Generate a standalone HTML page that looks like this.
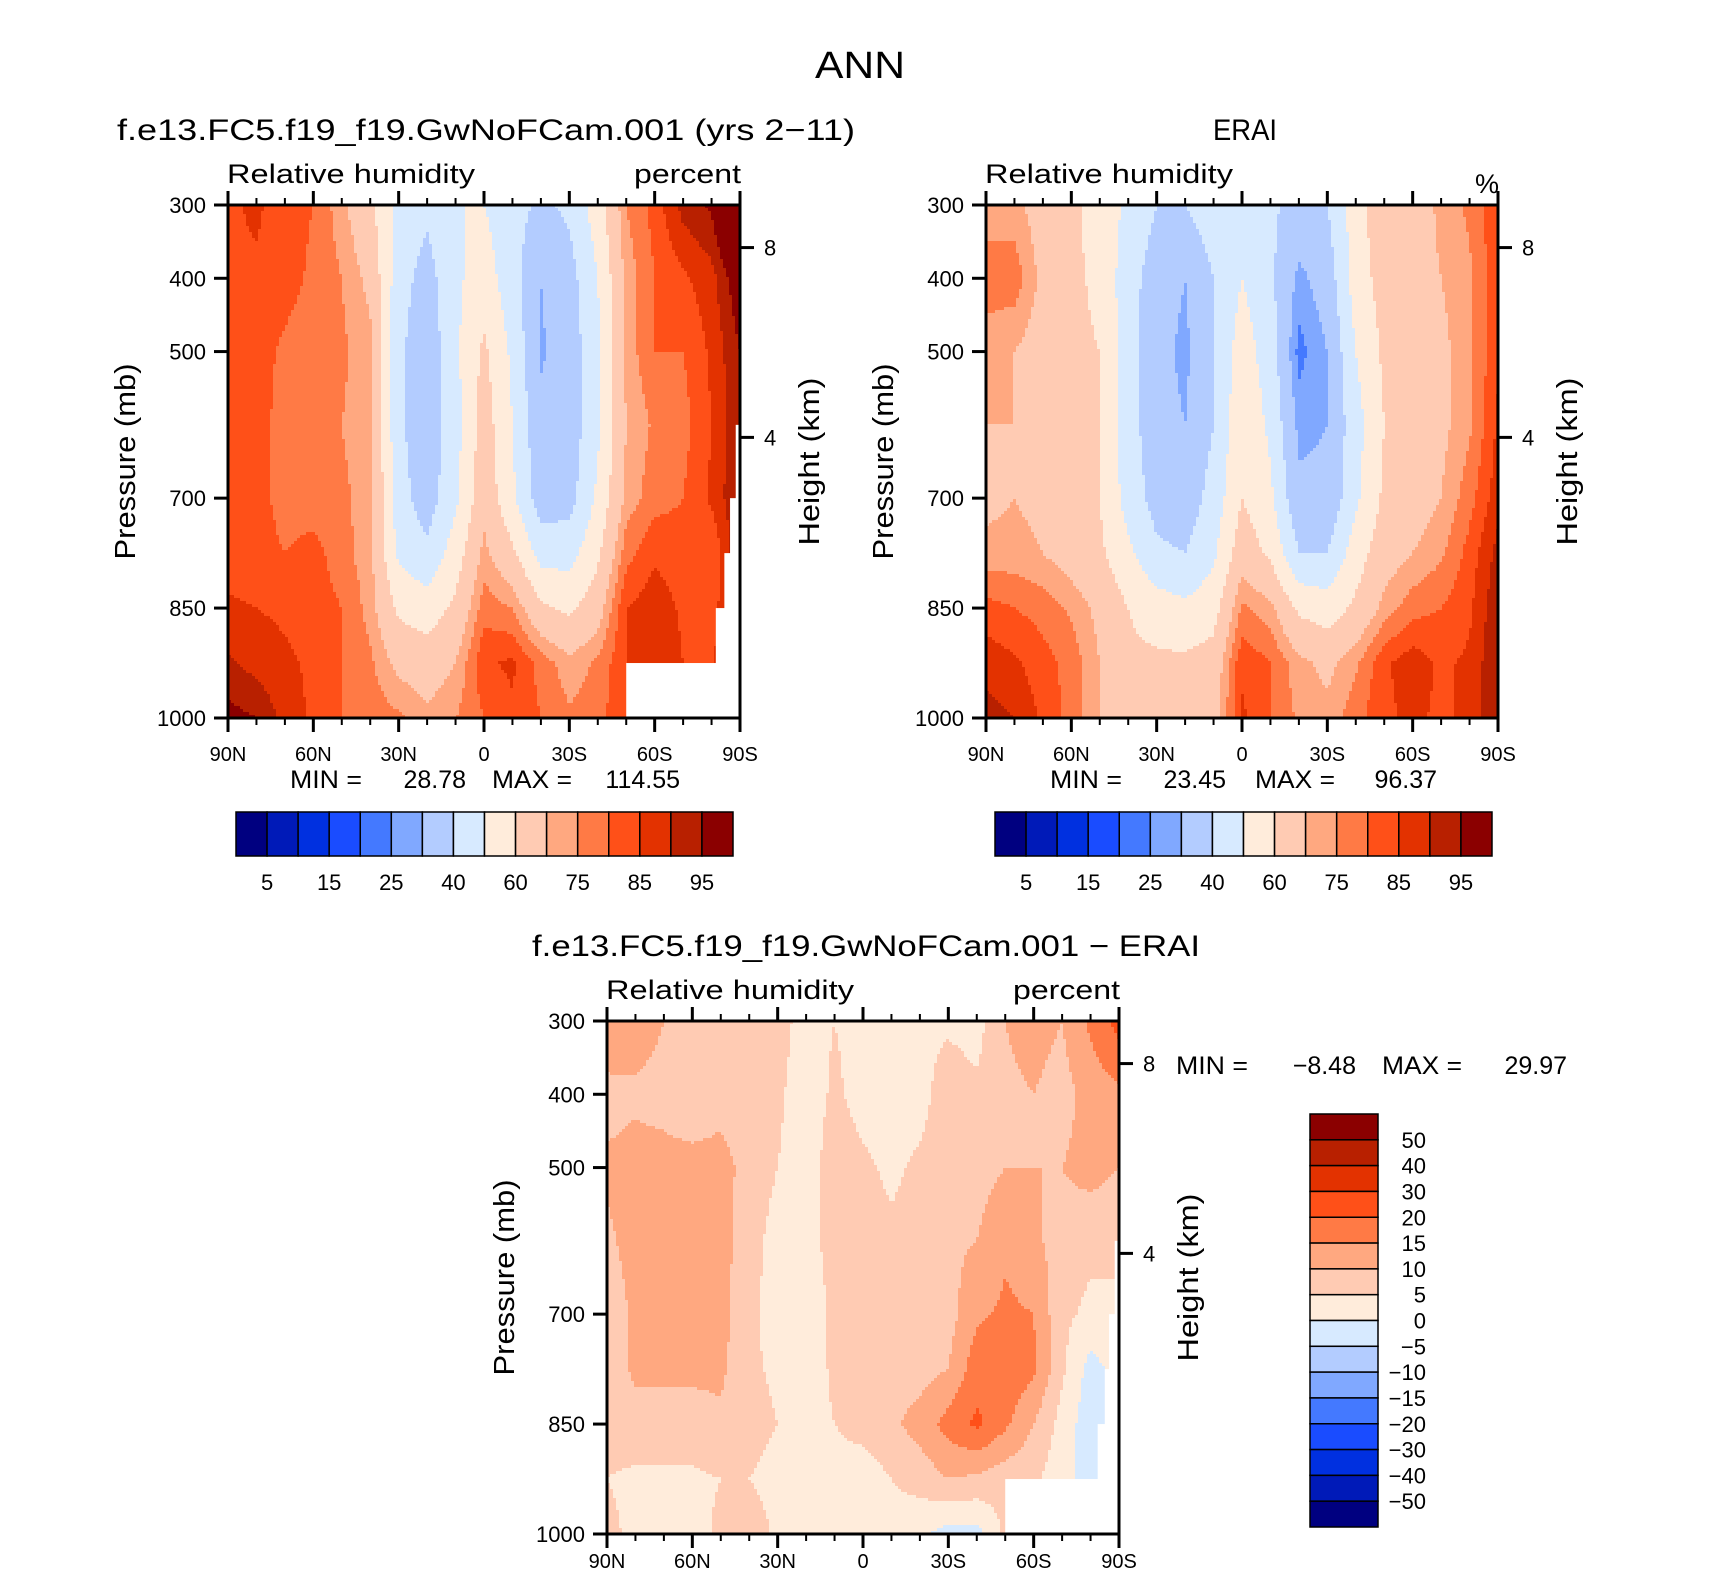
<!DOCTYPE html>
<html><head><meta charset="utf-8"><style>
body{margin:0;background:#fff}
svg{display:block}
text{font-family:"Liberation Sans",sans-serif;fill:#000}
</style></head><body>
<svg id="fig" width="1710" height="1575" viewBox="0 0 1710 1575" xmlns="http://www.w3.org/2000/svg">
<text x="860" y="78" font-size="38" text-anchor="middle" textLength="90" lengthAdjust="spacingAndGlyphs">ANN</text>
<text x="117" y="140" font-size="30" textLength="738" lengthAdjust="spacingAndGlyphs">f.e13.FC5.f19_f19.GwNoFCam.001 (yrs 2−11)</text>
<text x="1245" y="140" font-size="30" text-anchor="middle" textLength="64" lengthAdjust="spacingAndGlyphs">ERAI</text>
<text x="532" y="956" font-size="30" textLength="668" lengthAdjust="spacingAndGlyphs">f.e13.FC5.f19_f19.GwNoFCam.001 − ERAI</text>
<g id="panels"></g>
</svg>
<script>
const lats=[90,80,70,60,50,40,30,20,10,0,-10,-20,-30,-40,-50,-60,-70,-80,-90];
const plevs=[300,400,500,600,700,775,850,925,1000];
const levelsRH=[5,10,15,20,25,30,40,50,60,70,75,80,85,90,95];
const levelsDiff=[-50,-40,-30,-20,-15,-10,-5,0,5,10,15,20,30,40,50];
const labelsRH=["5","15","25","40","60","75","85","95"];
const labelsDiff=["50","40","30","20","15","10","5","0","−5","−10","−15","−20","−30","−40","−50"];
const colors=['#000080','#001ab8','#0030e0','#1a4cff','#4479ff','#80a8ff','#b3ccff','#d7eaff','#ffecdb','#ffcbb3','#ffa880','#ff7a45','#ff5018','#e33200','#b82000','#8b0000'];
const rhModel=[
[84,84,82,82,82,82,86,91,97],
[86,84,82,82,82,82,85,88,95],
[82,82,79,78,78,80,84,86,88],
[80,79,77,77,77,82,83,84,84],
[72,75,76,75,76,77,80,80,80],
[62,68,72,72,73,72,73,76,78],
[48,44,42,42,44,48,58,68,76],
[42,36,33,33,35,42,55,65,72],
[50,48,48,46,48,55,62,70,75],
[50,55,62,65,67,72,78,84,80],
[44,44,48,50,52,62,75,86,84],
[38,30,29,32,35,46,62,78,80],
[42,36,34,34,36,46,58,72,76],
[55,50,48,48,52,58,66,76,78],
[75,72,72,70,72,78,85,85,85],
[82,80,80,76,78,84,88,90,88],
[92,84,80,78,80,82,84,85,85],
[96,88,86,85,86,80,82,84,84],
[114,100,95,95,95,95,95,95,95]];
const rhObs=[
[72,78,72,70,68,72,82,88,92],
[72,78,70,70,70,72,80,86,90],
[66,68,66,66,68,70,78,82,84],
[62,62,62,62,64,66,74,78,78],
[56,58,60,60,60,62,68,70,70],
[48,44,44,44,46,52,60,62,62],
[40,35,33,34,36,42,55,62,62],
[40,30,28,30,34,40,52,62,62],
[46,40,40,40,44,48,56,64,66],
[50,50,55,58,60,66,76,84,86],
[42,42,45,48,52,58,72,80,80],
[36,28,23,28,32,40,58,72,74],
[40,34,30,30,32,40,55,68,72],
[55,55,50,46,48,55,62,74,78],
[68,64,62,60,62,66,72,84,84],
[64,66,65,64,66,70,78,88,86],
[72,70,68,68,70,74,80,84,84],
[76,74,74,74,78,82,84,86,86],
[84,84,84,86,88,92,94,95,95]];
const rhDiff=[
[15,8,11,9,7,7,7,5,6],
[13,9,12,12,11,11,8,4,4],
[10,8,12,12,12,11,8,4,4],
[8,6,12,12,11,11,8,4,3],
[6,8,12,12,12,11,9,5,6],
[7,6,8,7,6,6,7,5,8],
[7,6,5,3,3,4,5,3,4],
[3,2,2,3,2,2,3,3,4],
[5,6,8,7,6,6,5,3,3],
[3,3,6,7,6,6,7,2,2],
[2,2,4,6,7,8,9,5,3],
[4,3,6,7,6,8,12,7,1],
[4,8,9,9,8,10,17,10,-2],
[3,6,8,10,14,18,21,9,-2],
[10,9,10,14,16,19,16,7,6],
[12,10,10,11,15,16,10,6,6],
[10,8,10,8,6,6,3,2,2],
[16,12,12,6,4,-2,-3,-2,-2],
[22,14,10,6,4,2,-2,-2,-2]];
const mask1=[[-50,-90,925],[-81.5,-90,850],[-84.5,-90,775],[-86.5,-90,700],[-88.5,-90,600]];
const mask3=[[-50,-90,925],[-82.5,-90,850],[-85,-90,775],[-86.5,-90,700],[-88.5,-90,600]];
const stats1=["MIN =","28.78","MAX =","114.55"];
const stats2=["MIN =","23.45","MAX =","96.37"];
const stats3=["MIN =","−8.48","MAX =","29.97"];

const NS='http://www.w3.org/2000/svg';
const root=document.getElementById('panels');
function mk(tag,attrs,parent){const e=document.createElementNS(NS,tag);for(const k in attrs)e.setAttribute(k,attrs[k]);(parent||root).appendChild(e);return e;}
function txt(s,attrs,parent){const e=mk('text',attrs,parent);e.textContent=s;return e;}

function interp(grid,lat,p){
  let i=Math.floor((90-lat)/10); if(i>17)i=17; if(i<0)i=0;
  const fx=(lats[i]-lat)/10;
  let j=0; while(j<plevs.length-2&&p>plevs[j+1])j++;
  const fy=(p-plevs[j])/(plevs[j+1]-plevs[j]);
  const a=grid[i][j],b=grid[i+1][j],c=grid[i][j+1],d=grid[i+1][j+1];
  return a*(1-fx)*(1-fy)+b*fx*(1-fy)+c*(1-fx)*fy+d*fx*fy;
}
function colIdx(v,levels){let k=0;while(k<levels.length&&v>=levels[k])k++;return k;}

function panel(id,x0,y0,w,h,grid,levels,mask,opt){
  const g=mk('g',{});
  
  
  const xs=lat=>x0+(90-lat)/180*w;
  const ys=p=>y0+(p-300)/700*h;
  const field=mk('g',{'shape-rendering':'crispEdges'},g);
  
  
  const st=3, nx=Math.ceil(w/st), ny=Math.ceil(h/st);
  for(let r=0;r<ny;r++){
    const py=y0+r*st, ph=Math.min(st,y0+h-py);
    const p=300+((py+ph/2)-y0)/h*700;
    let start=0,cur=-1;
    for(let c=0;c<=nx;c++){
      let k=-2;
      if(c<nx){const px=x0+c*st+st/2;const lat=90-(px-x0)/w*180;k=colIdx(interp(grid,lat,p),levels);}
      if(k!==cur){
        if(cur>=0){const rx=x0+start*st;const rw=Math.min(x0+c*st,x0+w)-rx;
          const rc=mk('rect',{x:rx,y:py,width:rw+0.5,height:ph+0.5,fill:colors[cur]},field);
          
          }
        cur=k;start=c;
      }
    }
  }
  if(mask){for(const m of mask){const mr=mk('rect',{x:xs(m[0]),y:ys(m[2]),width:xs(m[1])-xs(m[0]),height:ys(1000)-ys(m[2]),fill:'#fff'},g);
    
    }}
  const fr=mk('rect',{x:x0,y:y0,width:w,height:h,fill:'none',stroke:'#000','stroke-width':3},g);
  
  
  const latLab={90:'90N',60:'60N',30:'30N',0:'0','-30':'30S','-60':'60S','-90':'90S'};
  for(let lat=90;lat>=-90;lat-=10){
    const x=xs(lat), major=lat%30===0, L=major?14:7;
    mk('line',{x1:x,y1:y0+h,x2:x,y2:y0+h+L,stroke:'#000','stroke-width':major?3:2},g);
    mk('line',{x1:x,y1:y0,x2:x,y2:y0-L,stroke:'#000','stroke-width':major?3:2},g);
    if(major){const t=txt(latLab[lat],{x:x,y:y0+h+opt.latOff,'font-size':20,'text-anchor':'middle'},g);
      
      }
  }
  for(const p of [300,400,500,700,850,1000]){
    const y=ys(p);
    mk('line',{x1:x0,y1:y,x2:x0-14,y2:y,stroke:'#000','stroke-width':3},g);
    const t=txt(String(p),{x:x0-22,y:y+8,'font-size':22,'text-anchor':'end'},g);
    
    
  }
  for(const hk of [[8,0.083],[4,0.453]]){
    const y=y0+hk[1]*h;
    mk('line',{x1:x0+w,y1:y,x2:x0+w+14,y2:y,stroke:'#000','stroke-width':3},g);
    const t=txt(String(hk[0]),{x:x0+w+24,y:y+8,'font-size':22},g);
    
    
  }
  const pt=txt('Pressure (mb)',{transform:`translate(${x0-93},${y0+h/2}) rotate(-90)`,'font-size':29,'text-anchor':'middle',textLength:196,lengthAdjust:'spacingAndGlyphs'},g);
  
  
  const ht=txt('Height (km)',{transform:`translate(${x0+w+79},${y0+h/2}) rotate(-90)`,'font-size':29,'text-anchor':'middle',textLength:168,lengthAdjust:'spacingAndGlyphs'},g);
  
  
  const lt=txt('Relative humidity',{x:x0-1,y:y0-22,'font-size':27,textLength:248,lengthAdjust:'spacingAndGlyphs'},g);
  
  
  const ut=txt(opt.units,{x:x0+w+1,y:y0-12,'font-size':27,'text-anchor':'end'},g);
  if(opt.units==='percent'){ut.setAttribute('y',y0-22);ut.setAttribute('textLength',107);ut.setAttribute('lengthAdjust','spacingAndGlyphs');}
  
  
  const s=opt.stats, sx=opt.statsX, sy=opt.statsY;
  const sg=mk('g',{},g);
  
  
  txt(s[0],{x:sx,y:sy,'font-size':25,textLength:72,lengthAdjust:'spacingAndGlyphs'},sg);
  txt(s[1],{x:sx+opt.sw[0],y:sy,'font-size':25,'text-anchor':'end'},sg);
  txt(s[2],{x:sx+opt.sw[1],y:sy,'font-size':25,textLength:80,lengthAdjust:'spacingAndGlyphs'},sg);
  txt(s[3],{x:sx+opt.sw[2],y:sy,'font-size':25,'text-anchor':'end'},sg);
}

function hbar(id,x0,y0,w,h,labels){
  const g=mk('g',{});
  
  
  const bw=w/colors.length;
  colors.forEach((c,i)=>{const r=mk('rect',{x:x0+i*bw,y:y0,width:bw,height:h,fill:c,stroke:'#000','stroke-width':1.5},g);
    
    });
  labels.forEach((l,k)=>{const t=txt(l,{x:x0+(2*k+1)*bw,y:y0+h+34,'font-size':22,'text-anchor':'middle'},g);
    
    });
}
function vbar(id,x0,y0,w,h,labels){
  const g=mk('g',{});
  
  
  const bh=h/colors.length;
  colors.slice().reverse().forEach((c,i)=>{const r=mk('rect',{x:x0,y:y0+i*bh,width:w,height:bh,fill:c,stroke:'#000','stroke-width':1.5},g);
    
    });
  labels.forEach((l,k)=>{const t=txt(l,{x:x0+w+48,y:y0+(k+1)*bh+8,'font-size':22,'text-anchor':'end'},g);
    
    });
}

panel('panel-model',228,205,512,513,rhModel,levelsRH,mask1,{units:'percent',stats:stats1,statsX:290,statsY:788,sw:[176,202,390],latOff:43});
panel('panel-erai',986,205,512,513,rhObs,levelsRH,null,{units:'%',stats:stats2,statsX:1050,statsY:788,sw:[176,205,387],latOff:43});
panel('panel-diff',607,1021,512,513,rhDiff,levelsDiff,mask3,{units:'percent',stats:stats3,statsX:1176,statsY:1074,sw:[180,206,391],latOff:34});
hbar('colorbar-model',236,812,497,44,labelsRH);
hbar('colorbar-erai',995,812,497,44,labelsRH);
vbar('colorbar-diff',1310,1114,68,413,labelsDiff);
</script>
</body></html>
